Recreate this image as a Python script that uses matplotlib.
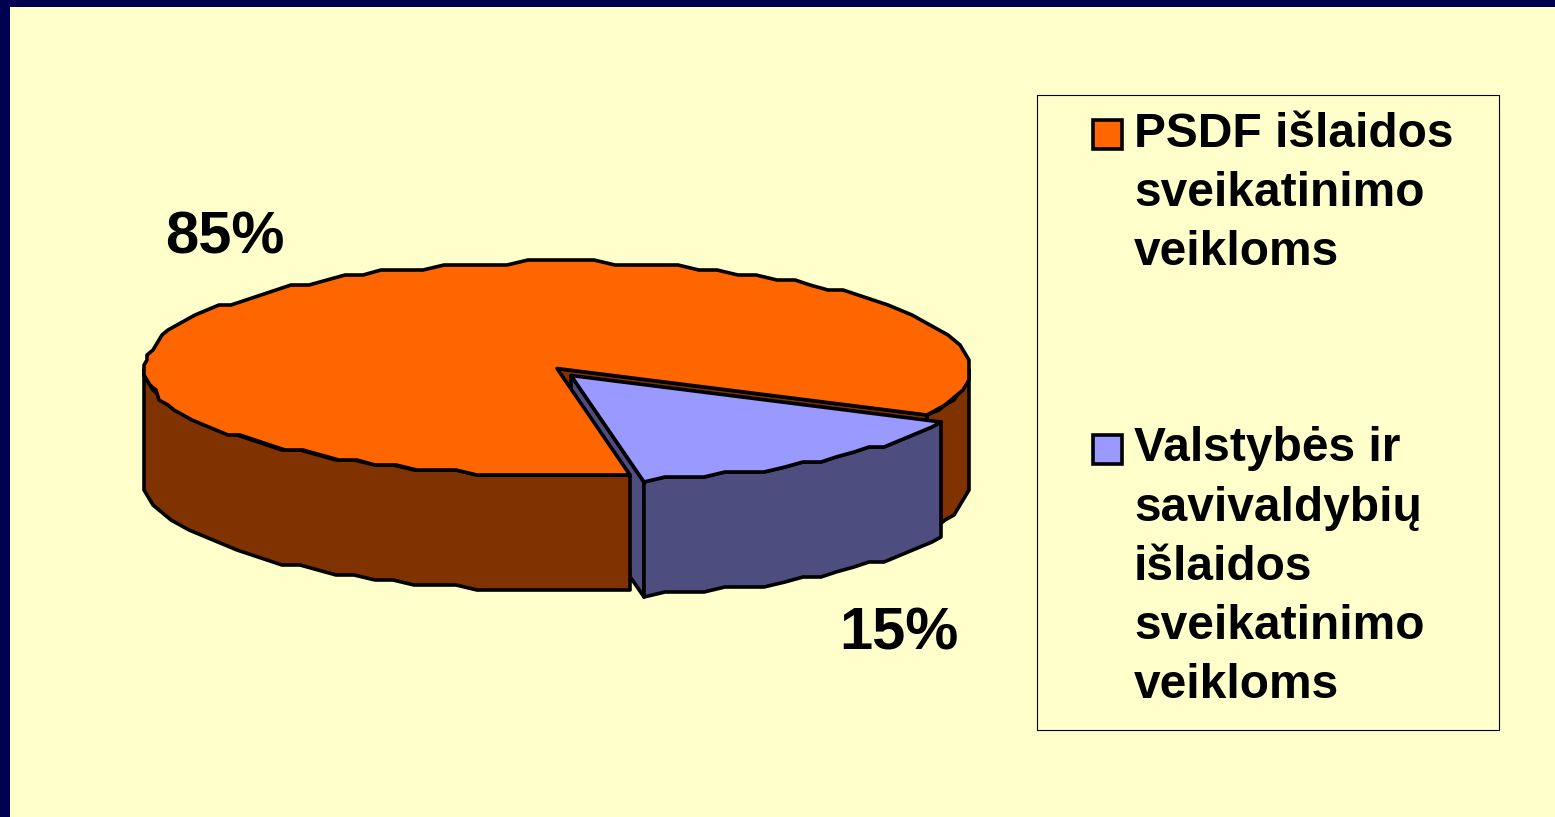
# -*- coding: utf-8 -*-
import numpy as np
import matplotlib
matplotlib.use('Agg')
import matplotlib.pyplot as plt
from matplotlib.patches import Polygon, Rectangle

plt.rcParams['font.family'] = ['Liberation Sans', 'DejaVu Sans']

# data
shares = [85, 15]
legend_lines = [
    ['PSDF išlaidos', 'sveikatinimo', 'veikloms'],
    ['Valstybės ir', 'savivaldybių', 'išlaidos', 'sveikatinimo', 'veikloms'],
]
top_colors = ['#FF6600', '#9999FF']
side_colors = ['#803300', '#4D4D80']

BG = '#FFFFCC'
NAVY = '#000050'
EDGE = dict(edgecolor='black', linewidth=2.6, joinstyle='round')

# pie geometry in pixels
cx, cy, rx, ry = 557, 368.5, 413, 106.5
depth = 115
first_angle = 26
shift = np.array([14, 7])


def rim(t0, t1, offset=(0, 0)):
    # rough stepped outline, like the low-res original
    n = max(int(abs(t1 - t0) / 3), 1)
    t = np.radians(np.linspace(t0, t1, n + 1))
    x = np.round((cx + rx * np.cos(t)) / 3) * 3
    y = np.round((cy + ry * np.sin(t)) / 5) * 5
    return np.column_stack([x, y]) + np.array(offset)


def wall(t0, t1, offset=(0, 0)):
    up = rim(t0, t1, offset)
    down = up[::-1] + [0, depth]
    return np.vstack([up, down])


fig = plt.figure(figsize=(15.55, 8.17), dpi=100, facecolor=BG)
ax = fig.add_axes([0, 0, 1, 1])
ax.set_xlim(0, 1555)
ax.set_ylim(817, 0)
ax.axis('off')

ax.add_patch(Rectangle((0, 0), 1555, 7, facecolor=NAVY, edgecolor='none'))
ax.add_patch(Rectangle((0, 0), 10, 817, facecolor=NAVY, edgecolor='none'))

span = [360 * s / sum(shares) for s in shares]
blue_a, blue_b = first_angle, first_angle + span[1]
orange_a, orange_b = blue_b, blue_b + span[0]
apex = np.array([cx, cy], dtype=float)
apex2 = apex + shift
down = np.array([0, depth])

# orange: right piece of the rim and the wall inside the notch
ax.add_patch(Polygon(wall(0, first_angle), facecolor=side_colors[0], **EDGE))
end = rim(first_angle, first_angle + 3)[0]
ax.add_patch(Polygon([apex, end, end + down, apex + down], facecolor=side_colors[0], **EDGE))

# blue inner wall, the orange slice covers most of it
corner = rim(blue_b - 3, blue_b, shift)[-1]
ax.add_patch(Polygon([apex2, corner, corner + down, apex2 + down], facecolor=side_colors[1], **EDGE))

# orange front wall and top
ax.add_patch(Polygon(wall(orange_a, 180), facecolor=side_colors[0], **EDGE))
ax.add_patch(Polygon(np.vstack([[apex], rim(orange_a, orange_b)]), facecolor=top_colors[0], **EDGE))

# blue wall and top
ax.add_patch(Polygon(wall(blue_a, blue_b, shift), facecolor=side_colors[1], **EDGE))
ax.add_patch(Polygon(np.vstack([[apex2], rim(blue_a, blue_b, shift)]), facecolor=top_colors[1], **EDGE))

# percent labels
ax.text(165, 253, f'{shares[0]}%', fontsize=43, fontweight='bold', color='black')
ax.text(839, 650, f'{shares[1]}%', fontsize=43, fontweight='bold', color='black')

# legend
ax.add_patch(Rectangle((1036.5, 94.5), 462, 635, facecolor='none', edgecolor='black', linewidth=0.8))
baselines = [[147, 206, 265], [461, 521, 580, 639, 698]]
swatch_y = [120, 435]
for lines, ys, sy, col in zip(legend_lines, baselines, swatch_y, top_colors):
    ax.add_patch(Rectangle((1093, sy), 29, 29, facecolor=col, edgecolor='black', linewidth=2.6))
    for line, y in zip(lines, ys):
        ax.text(1134, y, line, fontsize=34.5, fontweight='bold', color='black')

fig.savefig('out.png', dpi=100, facecolor=BG)
